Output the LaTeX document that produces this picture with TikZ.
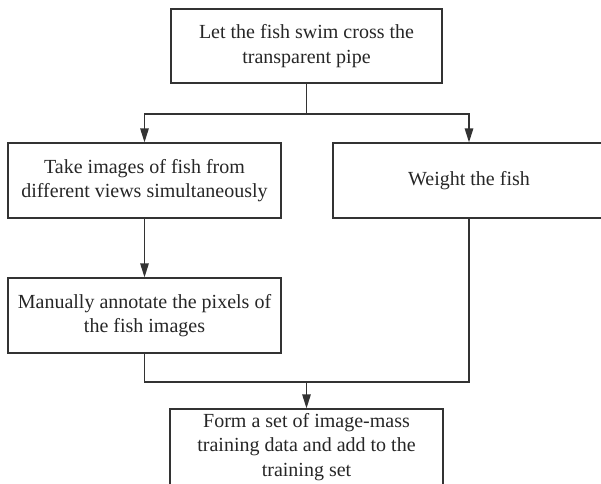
\documentclass[tikz,border=0pt]{standalone}
\usepackage{fontspec}
\setmainfont{Liberation Serif}
\usetikzlibrary{arrows.meta}
\begin{document}
\begin{tikzpicture}[x=1pt,y=-1pt,
  stepbox/.style={draw=black!80, line width=1.3pt, rectangle, align=center,
    text=black!85, inner sep=0pt,
    font=\fontsize{20}{24.5}\selectfont},
  conn/.style={draw=black!80, line width=1.3pt},
  arr/.style={conn, -{Triangle[length=14pt,width=8.5pt]}}]
\clip (0,0) rectangle (601,483);
\useasboundingbox (0,0) rectangle (601,483);
\node[stepbox, minimum width=271pt, minimum height=74pt] (top) at (306.5,46)
  {Let the fish swim cross the\\transparent pipe};
\node[stepbox, minimum width=273pt, minimum height=75pt] (take) at (144.5,180.5)
  {Take images of fish from\\different views simultaneously};
\node[stepbox, minimum width=272pt, minimum height=75pt] (weight) at (469,180.5)
  {Weight the fish};
\node[stepbox, minimum width=273pt, minimum height=75pt] (manual) at (144.5,315.5)
  {Manually annotate the pixels of\\the fish images};
\node[stepbox, minimum width=273pt, minimum height=76pt] (form) at (306.5,447)
  {Form a set of image-mass\\training data and add to the\\training set};
\coordinate (j1) at (306.5,114);
\coordinate (j2) at (306.5,382);
\draw[conn] (top.south) -- (j1);
\draw[arr] (j1) -| (take.north);
\draw[arr] (j1) -| (weight.north);
\draw[arr] (take.south) -- (manual.north);
\draw[conn] (manual.south) |- (j2);
\draw[conn] (weight.south) |- (j2);
\draw[arr] (j2) -- (form.north);
\end{tikzpicture}
\end{document}
